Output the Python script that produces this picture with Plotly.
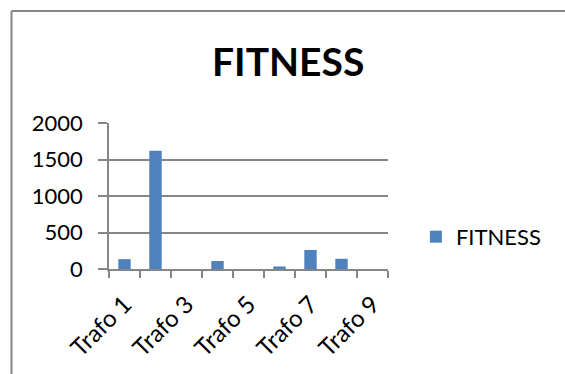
import plotly.graph_objects as go

categories = ["Trafo 1", "Trafo 2", "Trafo 3", "Trafo 4", "Trafo 5",
              "Trafo 6", "Trafo 7", "Trafo 8", "Trafo 9"]
fitness = [135, 1620, 0, 110, 0, 35, 260, 140, 0]
y_ticks = [0, 500, 1000, 1500, 2000]
series_name = "FITNESS"

idx = list(range(1, len(categories) + 1))
label_pos = idx[::2]
label_text = categories[::2]
bounds = [i - 0.5 for i in idx] + [idx[-1] + 0.5]

FONT = "Lato, Calibri, Carlito, sans-serif"
GRAY = "#868686"

fig = go.Figure()
fig.add_trace(go.Bar(x=idx, y=fitness, name=series_name,
                     marker=dict(color="#4F81BD", line=dict(width=0)),
                     showlegend=True))

fig.update_layout(
    width=565, height=374,
    margin=dict(l=109, r=177, t=123, b=105),
    paper_bgcolor="white", plot_bgcolor="white",
    font=dict(family=FONT, size=22, color="black"),
    bargap=0.6,
    title=dict(text="<b>FITNESS</b>", font=dict(size=39, family=FONT, color="black"),
               x=0.51, xref="container", xanchor="center",
               y=1 - 62 / 374, yref="container", yanchor="middle"),
    showlegend=True,
    legend=dict(x=1.10, xanchor="left", y=0.22, yanchor="middle",
                font=dict(size=22, family=FONT), bgcolor="rgba(0,0,0,0)"),
    xaxis=dict(range=[0.5, len(categories) + 0.5], tickmode="array",
               tickvals=label_pos, ticktext=label_text, tickangle=-45,
               tickfont=dict(size=24, family=FONT), ticklabelstandoff=10,
               ticks="", showgrid=False, showline=True, linecolor=GRAY, linewidth=1.5,
               zeroline=False,
               minor=dict(tickmode="array", tickvals=bounds, ticks="outside",
                          ticklen=7, tickcolor=GRAY, tickwidth=1.5, showgrid=False)),
    yaxis=dict(range=[0, 2000], tickmode="array", tickvals=y_ticks,
               ticks="outside", ticklen=9, tickcolor=GRAY, tickwidth=1.5,
               showgrid=True, gridcolor=GRAY, gridwidth=1.5,
               showline=True, linecolor=GRAY, linewidth=1.5, zeroline=False,
               ticklabelstandoff=11),
)

# chart-area border (only top and left edges visible in the frame)
fig.add_shape(type="line", xref="paper", yref="paper",
              x0=(11.5 - 109) / 279, x1=(565 - 109) / 279,
              y0=(269 - 11) / 146, y1=(269 - 11) / 146,
              line=dict(color=GRAY, width=2), layer="below")
fig.add_shape(type="line", xref="paper", yref="paper",
              x0=(11.5 - 109) / 279, x1=(11.5 - 109) / 279,
              y0=(269 - 11) / 146, y1=(269 - 374) / 146,
              line=dict(color=GRAY, width=2), layer="below")

fig.write_html("out.html", config={"displayModeBar": False})
